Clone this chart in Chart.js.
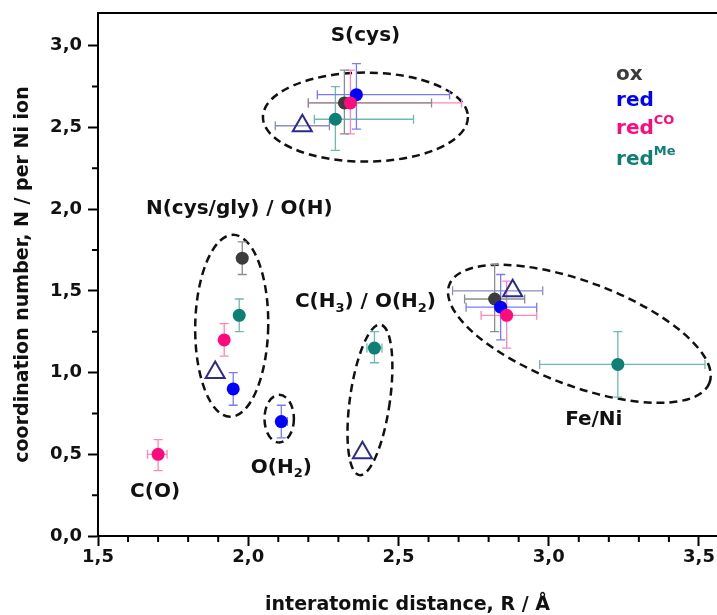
<!DOCTYPE html>
<html>
<head>
<meta charset="utf-8">
<script src="https://cdn.jsdelivr.net/npm/chart.js@4.4.0/dist/chart.umd.min.js"></script>
<style>
  html, body { margin: 0; padding: 0; background: #fff; }
</style>
</head>
<body>
<canvas id="c" width="717" height="615"></canvas>
<script>
// tick values
var xTicks = [1.5, 2.0, 2.5, 3.0, 3.5];
var yTicks = [0, 0.5, 1.0, 1.5, 2.0, 2.5, 3.0];

// ox : S(cys), N/O(H), Fe/Ni
var oxR = [2.32, 1.98, 2.82];
var oxN = [2.65, 1.70, 1.45];
var oxDR = [[0.12, 0.29], [0, 0], [0.10, 0.10]];
var oxDN = [[0.19, 0.20], [0.10, 0.10], [0.20, 0.21]];

// red : S(cys), N/O(H), O(H2), Fe/Ni
var redR = [2.36, 1.95, 2.11, 2.84];
var redN = [2.70, 0.90, 0.70, 1.40];
var redDR = [[0.13, 0.31], [0, 0], [0, 0.02], [0.115, 0.12]];
var redDN = [[0.21, 0.19], [0.10, 0.10], [0.10, 0.10], [0.20, 0.20]];

// redCO : S(cys), N/O(H), C(O), Fe/Ni
var coR = [2.34, 1.92, 1.70, 2.86];
var coN = [2.65, 1.20, 0.50, 1.35];
var coDR = [[0.14, 0.37], [0, 0], [0.035, 0.03], [0.085, 0.10]];
var coDN = [[0.19, 0.20], [0.10, 0.10], [0.10, 0.09], [0.20, 0.21]];

// redMe : S(cys), N/O(H), C(H3)/O(H2), Fe/Ni
var meR = [2.29, 1.97, 2.42, 3.23];
var meN = [2.55, 1.35, 1.15, 1.05];
var meDR = [[0.07, 0.26], [0, 0], [0.025, 0.025], [0.26, 0.29]];
var meDN = [[0.19, 0.20], [0.10, 0.10], [0.09, 0.10], [0.20, 0.20]];

// open triangles
var triR = [2.18, 1.89, 2.38, 2.88];
var triN = [2.51, 1.00, 0.51, 1.50];
var triDR = [[0.09, 0.09], [0, 0], [0, 0], [0.20, 0.10]];
var triDN = [[0, 0], [0, 0], [0, 0], [0, 0]];

var FONT = '"DejaVu Sans", sans-serif';

// dashed ellipses round the shells (center in data units, radii in px)
var ellipses = [
  { x: 2.390, y: 2.563, rx: 102.5, ry: 44.5, rot: 0 },
  { x: 1.945, y: 1.286, rx: 36.5, ry: 91, rot: 1 },
  { x: 2.103, y: 0.718, rx: 14.7, ry: 23.8, rot: 0 },
  { x: 2.405, y: 0.833, rx: 20, ry: 76, rot: 8 },
  { x: 3.102, y: 1.237, rx: 139, ry: 52, rot: 20.6 }
];

// parts: [text, 0 normal / 1 sub / 2 sup]
var groupLabels = [
  { parts: [['S(cys)', 0]], x: 2.39, y: 3.06 },
  { parts: [['N(cys/gly) / O(H)', 0]], x: 1.97, y: 2.00 },
  { parts: [['C(H', 0], ['3', 1], [') / O(H', 0], ['2', 1], [')', 0]], x: 2.39, y: 1.43 },
  { parts: [['O(H', 0], ['2', 1], [')', 0]], x: 2.11, y: 0.42 },
  { parts: [['C(O)', 0]], x: 1.69, y: 0.27 },
  { parts: [['Fe/Ni', 0]], x: 3.15, y: 0.71 }
];

var legendItems = [
  { parts: [['ox', 0]], color: '#3c3c3c', y: 2.82 },
  { parts: [['red', 0]], color: '#0000ff', y: 2.66 },
  { parts: [['red', 0], ['CO', 2]], color: '#ff0a7c', y: 2.49 },
  { parts: [['red', 0], ['Me', 2]], color: '#0e7f74', y: 2.30 }
];

function series(label, rs, ns, dr, dn, color, errColor, style, order) {
  var tri = style === 'triangle';
  return {
    label: label,
    data: rs.map(function (r, i) { return { x: r, y: ns[i] }; }),
    errR: dr,
    errN: dn,
    errColor: errColor,
    pointStyle: style,
    pointRadius: tri ? 11 : 6.5,
    backgroundColor: tri ? 'rgba(0,0,0,0)' : color,
    borderColor: color,
    borderWidth: tri ? 2 : 0,
    order: order
  };
}

function drawRich(ctx, parts, x, y, align, size) {
  var total = 0;
  parts.forEach(function (p) {
    ctx.font = 'bold ' + (p[1] ? Math.round(size * 0.65) : size) + 'px ' + FONT;
    total += ctx.measureText(p[0]).width;
  });
  var cx = align === 'center' ? x - total / 2 : x;
  ctx.textAlign = 'left';
  ctx.textBaseline = 'middle';
  parts.forEach(function (p) {
    ctx.font = 'bold ' + (p[1] ? Math.round(size * 0.65) : size) + 'px ' + FONT;
    var dy = p[1] === 1 ? size * 0.3 : (p[1] === 2 ? -size * 0.4 : 0);
    ctx.fillText(p[0], cx, y + dy);
    cx += ctx.measureText(p[0]).width;
  });
}

var extras = {
  id: 'extras',
  beforeDatasetsDraw: function (chart) {
    var ctx = chart.ctx, sx = chart.scales.x, sy = chart.scales.y;
    ctx.save();
    // ellipses
    ctx.setLineDash([8, 5]);
    ctx.lineWidth = 2.5;
    ctx.strokeStyle = '#111';
    ellipses.forEach(function (e) {
      ctx.beginPath();
      ctx.ellipse(sx.getPixelForValue(e.x), sy.getPixelForValue(e.y), e.rx, e.ry, e.rot * Math.PI / 180, 0, 2 * Math.PI);
      ctx.stroke();
    });
    ctx.setLineDash([]);
    // error bars
    ctx.lineWidth = 1.3;
    var cap = 4.5;
    chart.data.datasets.slice().reverse().forEach(function (ds) {
      ctx.strokeStyle = ds.errColor;
      ds.data.forEach(function (p, i) {
        var px = sx.getPixelForValue(p.x), py = sy.getPixelForValue(p.y);
        var dr = ds.errR[i], dn = ds.errN[i];
        ctx.beginPath();
        if (dr[0] || dr[1]) {
          var x0 = sx.getPixelForValue(p.x - dr[0]), x1 = sx.getPixelForValue(p.x + dr[1]);
          ctx.moveTo(x0, py); ctx.lineTo(x1, py);
          if (dr[0]) { ctx.moveTo(x0, py - cap); ctx.lineTo(x0, py + cap); }
          if (dr[1]) { ctx.moveTo(x1, py - cap); ctx.lineTo(x1, py + cap); }
        }
        if (dn[0] || dn[1]) {
          var y0 = sy.getPixelForValue(p.y - dn[0]), y1 = sy.getPixelForValue(p.y + dn[1]);
          ctx.moveTo(px, y0); ctx.lineTo(px, y1);
          ctx.moveTo(px - cap, y0); ctx.lineTo(px + cap, y0);
          ctx.moveTo(px - cap, y1); ctx.lineTo(px + cap, y1);
        }
        ctx.stroke();
      });
    });
    ctx.restore();
  },
  afterDraw: function (chart) {
    var ctx = chart.ctx, sx = chart.scales.x, sy = chart.scales.y, a = chart.chartArea;
    ctx.save();
    // top frame line
    ctx.strokeStyle = '#000';
    ctx.lineWidth = 2;
    ctx.beginPath();
    ctx.moveTo(a.left, a.top); ctx.lineTo(a.right, a.top);
    ctx.stroke();
    // minor ticks
    ctx.lineWidth = 2;
    ctx.beginPath();
    for (var v = 1.6; v < 3.56; v += 0.1) {
      if (Math.abs(v * 2 - Math.round(v * 2)) < 1e-6) continue;
      var x = sx.getPixelForValue(v);
      ctx.moveTo(x, a.bottom); ctx.lineTo(x, a.bottom + 6);
    }
    for (var w = 0.25; w < 3.2; w += 0.5) {
      var y = sy.getPixelForValue(w);
      ctx.moveTo(a.left, y); ctx.lineTo(a.left - 6, y);
    }
    ctx.stroke();
    // group labels
    ctx.fillStyle = '#111';
    groupLabels.forEach(function (g) {
      drawRich(ctx, g.parts, sx.getPixelForValue(g.x), sy.getPixelForValue(g.y), 'center', 20);
    });
    // legend
    legendItems.forEach(function (l) {
      ctx.fillStyle = l.color;
      drawRich(ctx, l.parts, sx.getPixelForValue(3.224), sy.getPixelForValue(l.y), 'left', 20);
    });
    ctx.restore();
  }
};

function fmt(v) { return v.toFixed(1).replace('.', ','); }

new Chart(document.getElementById('c'), {
  type: 'scatter',
  data: {
    datasets: [
      series('ox', oxR, oxN, oxDR, oxDN, '#3c3c3c', '#8c8c8c', 'circle', 5),
      series('red', redR, redN, redDR, redDN, '#0000ff', '#7a7aff', 'circle', 4),
      series('redCO', coR, coN, coDR, coDN, '#ff0a7c', '#ff86b8', 'circle', 3),
      series('redMe', meR, meN, meDR, meDN, '#0e7f74', '#6fb9b0', 'circle', 2),
      series('', triR, triN, triDR, triDN, '#2b2b8f', '#8c8cc8', 'triangle', 1)
    ]
  },
  options: {
    responsive: false,
    animation: false,
    layout: { autoPadding: false, padding: { top: 13, right: 0, left: 0, bottom: 0 } },
    plugins: { legend: { display: false }, tooltip: { enabled: false } },
    scales: {
      x: {
        type: 'linear',
        min: 1.5,
        max: 3.56,
        afterBuildTicks: function (s) { s.ticks = xTicks.map(function (v) { return { value: v }; }); },
        afterFit: function (s) { s.height = 79; s.paddingRight = 0; s.paddingLeft = 0; },
        border: { display: true, color: '#000', width: 2 },
        grid: { display: true, drawOnChartArea: false, drawTicks: true, tickLength: 10, tickWidth: 2, tickColor: '#000' },
        ticks: { color: '#111', padding: 1, maxRotation: 0, font: { family: FONT, size: 18, weight: 'bold' }, callback: function (v) { return fmt(v); } },
        title: { display: true, text: 'interatomic distance, R / Å', color: '#111', padding: { top: 0, bottom: 0 }, font: { family: FONT, size: 19, weight: 'bold', lineHeight: 1.0 } }
      },
      y: {
        type: 'linear',
        min: 0,
        max: 3.2,
        afterBuildTicks: function (s) { s.ticks = yTicks.map(function (v) { return { value: v }; }); },
        afterFit: function (s) { s.width = 98; s.paddingTop = 0; s.paddingBottom = 0; },
        border: { display: true, color: '#000', width: 2 },
        grid: { display: true, drawOnChartArea: false, drawTicks: true, tickLength: 10, tickWidth: 2, tickColor: '#000' },
        ticks: { color: '#111', padding: 6, font: { family: FONT, size: 18, weight: 'bold' }, callback: function (v) { return fmt(v); } },
        title: { display: true, text: 'coordination number, N / per Ni ion', color: '#111', padding: { top: 12, bottom: 0 }, font: { family: FONT, size: 19, weight: 'bold' } }
      }
    }
  },
  plugins: [extras]
});
</script>
</body>
</html>
